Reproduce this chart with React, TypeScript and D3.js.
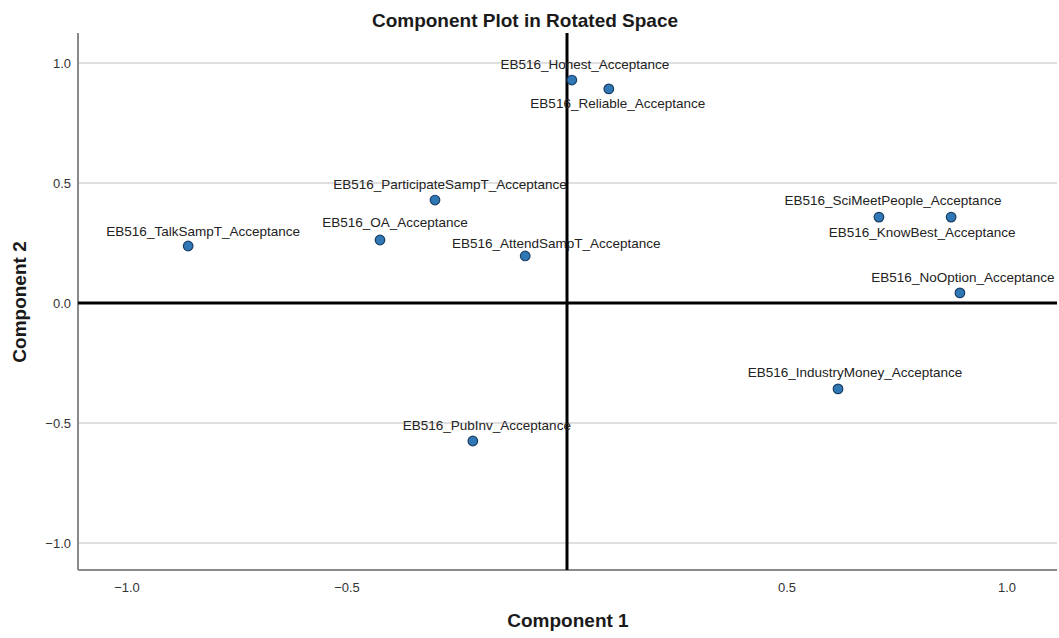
import React from "react";
import * as d3 from "d3";

const labels = [
  "EB516_Honest_Acceptance",
  "EB516_Reliable_Acceptance",
  "EB516_ParticipateSampT_Acceptance",
  "EB516_TalkSampT_Acceptance",
  "EB516_OA_Acceptance",
  "EB516_AttendSampT_Acceptance",
  "EB516_SciMeetPeople_Acceptance",
  "EB516_KnowBest_Acceptance",
  "EB516_NoOption_Acceptance",
  "EB516_IndustryMoney_Acceptance",
  "EB516_PubInv_Acceptance",
];
const component1 = [0.011, 0.095, -0.3, -0.861, -0.425, -0.095, 0.709, 0.873, 0.893, 0.616, -0.214];
const component2 = [0.929, 0.892, 0.429, 0.2375, 0.2625, 0.196, 0.358, 0.358, 0.042, -0.358, -0.575];
// label placement relative to each marker (px): [dx of text centre, dy of text middle]
const labelDx = [13, 9, 15, 15, 15, 31, 14, -29, 3, 17, 14];
const labelDy = [-16, 14, -16, -15, -18, -13, -17, 15, -16, -17, -16];

const xTicks = [-1.0, -0.5, 0.5, 1.0];
const yTicks = [1.0, 0.5, 0.0, -0.5, -1.0];

const W = 1059;
const H = 638;
const left = 78;
const right = 1057;
const top = 33;
const bottom = 570;

export default function App() {
  const x = d3.scaleLinear().domain([-1, 1]).range([127, 1007]);
  const y = d3.scaleLinear().domain([-1, 1]).range([543, 63]);
  const fmt = d3.format(".1f");
  const font = "'Liberation Sans', Arial, sans-serif";

  return (
    <svg
      width={W}
      height={H}
      style={{ position: "absolute", left: 0, top: 0, background: "#fff" }}
      fontFamily={font}
    >
      <rect x={0} y={0} width={W} height={H} fill="#fff" />
      {/* title */}
      <text x={525} y={27} textAnchor="middle" fontSize={19} fontWeight="bold" fill="#1a1a1a">
        Component Plot in Rotated Space
      </text>
      {/* grid lines */}
      {yTicks.filter((t) => t !== 0).map((t) => (
        <line key={"g" + t} x1={left} x2={right} y1={y(t)} y2={y(t)} stroke="#d4d4d4" strokeWidth={1.5} />
      ))}
      {/* axes */}
      <line x1={left} x2={left} y1={top} y2={bottom} stroke="#8a8a8a" strokeWidth={2} />
      <line x1={left} x2={right} y1={bottom} y2={bottom} stroke="#8a8a8a" strokeWidth={2} />
      {/* reference lines at 0 */}
      <line x1={x(0)} x2={x(0)} y1={top} y2={bottom} stroke="#000" strokeWidth={3} />
      <line x1={left} x2={right} y1={y(0)} y2={y(0)} stroke="#000" strokeWidth={3} />
      {/* y ticks */}
      {yTicks.map((t) => (
        <text key={"yt" + t} x={71} y={y(t)} dy="0.35em" textAnchor="end" fontSize={13} fill="#333">
          {fmt(t)}
        </text>
      ))}
      {/* x ticks */}
      {xTicks.map((t) => (
        <text key={"xt" + t} x={x(t)} y={587} dy="0.35em" textAnchor="middle" fontSize={13} fill="#333">
          {fmt(t)}
        </text>
      ))}
      {/* axis titles */}
      <text x={568} y={627} textAnchor="middle" fontSize={19} fontWeight="bold" fill="#1a1a1a">
        Component 1
      </text>
      <text
        transform={`translate(26,302) rotate(-90)`}
        textAnchor="middle"
        fontSize={19}
        fontWeight="bold"
        fill="#1a1a1a"
      >
        Component 2
      </text>
      {/* points */}
      {labels.map((l, i) => (
        <circle
          key={"p" + i}
          cx={x(component1[i])}
          cy={y(component2[i])}
          r={4.8}
          fill="#2f78b5"
          stroke="#1b3d63"
          strokeWidth={1.2}
        />
      ))}
      {labels.map((l, i) => (
        <text
          key={"l" + i}
          x={x(component1[i]) + labelDx[i]}
          y={y(component2[i]) + labelDy[i]}
          dy="0.35em"
          textAnchor="middle"
          fontSize={13.5}
          fill="#222"
        >
          {l}
        </text>
      ))}
    </svg>
  );
}
